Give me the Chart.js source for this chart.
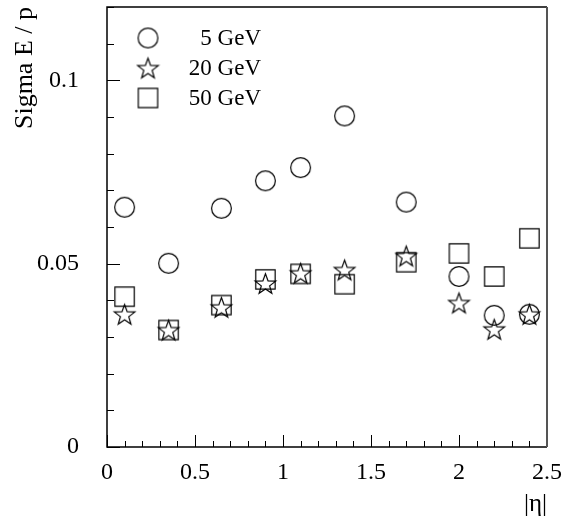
<!DOCTYPE html>
<html>
<head>
<meta charset="utf-8">
<script src="https://cdn.jsdelivr.net/npm/chart.js@4"></script>
<style>
html,body{margin:0;padding:0;background:#fff;}
</style>
</head>
<body>
<canvas id="canvas" width="566" height="520"></canvas>
<script>
// |eta| bins and energy resolution for the three beam energies
const etaValues=[0.1,0.35,0.65,0.9,1.1,1.35,1.7,2.0,2.2,2.4];
const sigma5=[0.0654,0.0501,0.0651,0.0726,0.0762,0.0903,0.0668,0.0465,0.0359,0.0362];
const sigma20=[0.0362,0.0319,0.0381,0.0446,0.0474,0.0483,0.0521,0.0393,0.0321,0.0362];
const sigma50=[0.0410,0.0319,0.0387,0.0457,0.0472,0.0444,0.0504,0.0528,0.0465,0.0569];
const seriesLabels=["5 GeV","20 GeV","50 GeV"];
const xTickValues=[0,0.5,1,1.5,2,2.5];
const yTickValues=[0,0.05,0.1];

const serif="'Liberation Serif','Times New Roman',serif";

function makeMarker(kind){
    const c=document.createElement("canvas");
    c.width=25;
    c.height=25;
    const g=c.getContext("2d");
    g.strokeStyle="#000";
    g.lineWidth=1.2;
    const cx=12.5,cy=12.5;
    g.beginPath();
    if(kind==="circle"){
        g.arc(cx,cy,9.9,0,Math.PI*2);
    }
    else if(kind==="square"){
        g.rect(cx-9.7,cy-9.7,19.4,19.4);
    }
    else{
        for(let i=0;i<10;i++){
            const r=i%2===0?10.8:4.4;
            const a=-Math.PI/2+i*Math.PI/5;
            const px=cx+r*Math.cos(a),py=cy+1+r*Math.sin(a);
            if(i===0) g.moveTo(px,py); else g.lineTo(px,py);
        }
        g.closePath();
    }
    g.stroke();
    return c;
}
const markers=[makeMarker("circle"),makeMarker("star"),makeMarker("square")];

function points(values){
    return etaValues.map((x,i)=>({x:x,y:values[i]}));
}

// frame with inward ticks, ROOT style
const framePlugin={
    id:"frame",
    beforeDatasetsDraw(chart){
        const {ctx,chartArea:a,scales}=chart;
        ctx.save();
        ctx.strokeStyle="#000";
        ctx.lineWidth=1;
        ctx.beginPath();
        for(let v=0;v<=2.5001;v+=0.1){
            const x=Math.round(scales.x.getPixelForValue(v))+0.5;
            const major=Math.abs(v*2-Math.round(v*2))<1e-6;
            ctx.moveTo(x,a.bottom);
            ctx.lineTo(x,a.bottom-(major?12:6));
        }
        for(let v=0;v<=0.12001;v+=0.01){
            const y=Math.round(scales.y.getPixelForValue(v))+0.5;
            const major=Math.abs(v*20-Math.round(v*20))<1e-6;
            ctx.moveTo(a.left,y);
            ctx.lineTo(a.left+(major?13:7),y);
        }
        ctx.stroke();
        ctx.lineWidth=1.5;
        ctx.beginPath();
        ctx.moveTo(a.right,a.top);
        ctx.lineTo(a.left,a.top);
        ctx.lineTo(a.left,a.bottom);
        ctx.lineTo(a.right,a.bottom);
        ctx.stroke();
        ctx.strokeStyle="#555";
        ctx.lineWidth=2;
        ctx.beginPath();
        ctx.moveTo(a.right,a.top);
        ctx.lineTo(a.right,a.bottom);
        ctx.stroke();
        ctx.restore();
    }
};

const keyPlugin={
    id:"key",
    afterDraw(chart){
        const ctx=chart.ctx;
        ctx.save();
        ctx.fillStyle="#000";
        ctx.font="23px "+serif;
        ctx.textAlign="right";
        ctx.textBaseline="middle";
        seriesLabels.forEach((label,i)=>{
            const y=38+i*30;
            const m=markers[i];
            ctx.drawImage(m,148-m.width/2,y-m.height/2);
            ctx.fillText(label,261,y+1);
        });
        ctx.restore();
    }
};

new Chart(document.getElementById("canvas"),{
    type:"scatter",
    data:{
        datasets:[
            {label:seriesLabels[2],data:points(sigma50),pointStyle:markers[2]},
            {label:seriesLabels[1],data:points(sigma20),pointStyle:markers[1]},
            {label:seriesLabels[0],data:points(sigma5),pointStyle:markers[0]}
        ]
    },
    options:{
        responsive:false,
        devicePixelRatio:1,
        animation:false,
        layout:{
            padding:{top:7,right:19,bottom:0,left:0}
        },
        plugins:{
            legend:{display:false},
            tooltip:{enabled:false}
        },
        scales:{
            x:{
                type:"linear",
                position:"bottom",
                min:0,
                max:2.5,
                afterFit:s=>{
                    s.height=73;
                    s.paddingLeft=0;
                    s.paddingRight=0;
                },
                afterBuildTicks:s=>{s.ticks=xTickValues.map(v=>({value:v}));},
                grid:{display:false,drawTicks:false},
                border:{display:false},
                ticks:{
                    color:"#000",
                    font:{family:serif,size:24},
                    padding:11,
                    maxRotation:0,
                    autoSkip:false,
                    callback:v=>String(v)
                },
                title:{
                    display:true,
                    text:"|η|",
                    align:"end",
                    color:"#000",
                    font:{family:serif,size:25},
                    padding:{top:0,bottom:1}
                }
            },
            y:{
                type:"linear",
                min:0,
                max:0.12,
                afterFit:s=>{
                    s.width=107;
                    s.paddingTop=0;
                    s.paddingBottom=0;
                },
                afterBuildTicks:s=>{s.ticks=yTickValues.map(v=>({value:v}));},
                grid:{display:false,drawTicks:false},
                border:{display:false},
                ticks:{
                    color:"#000",
                    font:{family:serif,size:24},
                    padding:28,
                    callback:v=>String(v)
                },
                title:{
                    display:true,
                    text:"Sigma E / p",
                    align:"end",
                    color:"#000",
                    font:{family:serif,size:26},
                    padding:{top:10,bottom:0}
                }
            }
        }
    },
    plugins:[framePlugin,keyPlugin]
});
</script>
</body>
</html>
